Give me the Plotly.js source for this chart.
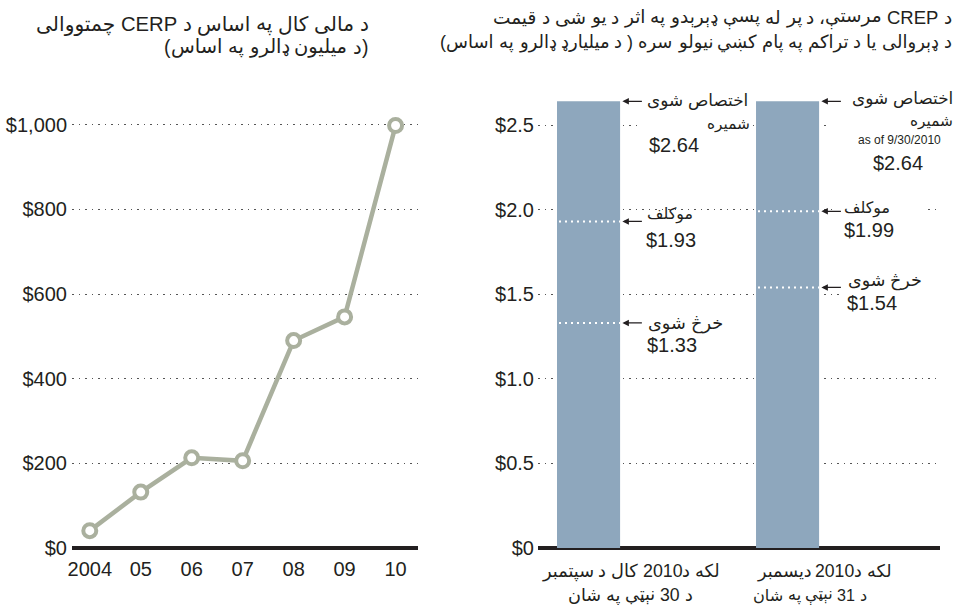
<!DOCTYPE html>
<html><head><meta charset="utf-8">
<script src="https://cdn.plot.ly/plotly-3.0.1.min.js"></script>
<style>body{margin:0;background:#fff}#chart{width:959px;height:605px}</style>
</head><body><div id="chart"></div>
<script>
// ---------- data ----------
const lineYears = [2004, 2005, 2006, 2007, 2008, 2009, 2010];
const lineTickLabels = ['2004', '05', '06', '07', '08', '09', '10'];
const lineValues = [41, 132, 213, 206, 490, 546, 998];
const leftTickVals = [0, 200, 400, 600, 800, 1000];
const leftTickText = ['$0', '$200', '$400', '$600', '$800', '$1,000'];

const barCategoriesLine1 = ['لکه د2010 کال د سپتمبر', 'لکه د2010 دیسمبر'];
const barCategoriesLine2 = ['د 30 نېټې په شان', 'د 31 نېټې په شان'];
const barAppropriated = [2.64, 2.64];
const barObligated = [1.93, 1.99];
const barSpent = [1.33, 1.54];
const rightTickVals = [0, 0.5, 1, 1.5, 2, 2.5];
const rightTickText = ['$0', '$0.5', '$1.0', '$1.5', '$2.0', '$2.5'];

const leftTitle = ['د مالی کال په اساس د CERP چمتووالی', '(د میلیون ډالرو په اساس)'];
const rightTitle = ['د CREP مرستې، د پر له پسې ډېرېدو په اثر د يو شی د قيمت',
                    'د ډېروالی یا د تراکم په پام کښي نیولو سره ( د میلیارډ ډالرو په اساس)'];
const lblAppropriated = ['اختصاص شوی', 'شمیره'];
const lblObligated = 'موکلف';
const lblSpent = 'خرڅ شوی';
const lblAsOf = 'as of 9/30/2010';

// ---------- helpers ----------
const W = 959, H = 605;
const FONT = 'Liberation Sans, Arial, DejaVu Sans, sans-serif';
const CFONT = '"Liberation Sans", Arial, "DejaVu Sans", sans-serif';
const INK = '#231f20';
const ctx = document.createElement('canvas').getContext('2d');
function meas(t, size) { ctx.font = size + 'px ' + CFONT; return ctx.measureText(t).width; }
function money(v) { return '$' + v.toFixed(2); }
const AR = /[\u0620-\u06FF]/;
function mirror(s) { return s.replace(/[()]/g, c => (c === '(' ? ')' : '(')); }

const ann = [];
function T(text, x, y, o) {
  o = o || {};
  ann.push({xref: 'paper', yref: 'paper', x: x / W, y: 1 - y / H,
    xanchor: o.xa || 'left', yanchor: 'middle', showarrow: false, text: text,
    borderpad: 0, borderwidth: 0,
    font: {family: FONT, size: o.size || 18, color: INK}});
}
// Pashto lines are set right to left, word by word (digits, Latin words and
// punctuation kept as their own pieces), so the order on screen is exact.
function line(text, x, y, o) {
  let size = o.size;
  const pcs = [];
  text.split(' ').forEach((w, wi) => {
    (w.match(/[\u0620-\u06FF]+|[^\u0620-\u06FF]+/g) || [w]).forEach((s, si) =>
      pcs.push({t: AR.test(s) ? s : mirror(s), sp: wi > 0 && si === 0}));
  });
  const total = sz => pcs.reduce((a, p) => a + meas(p.t, sz) + (p.sp ? meas(' ', sz) : 0), 0);
  if (o.fit) size = Math.max(size * 0.82, Math.min(size * 1.15, size * o.fit / total(size)));
  const tw = total(size);
  let cx = o.xa === 'right' ? x : o.xa === 'center' ? x + tw / 2 : x + tw;
  pcs.forEach(p => {
    if (p.sp) cx -= meas(' ', size);
    cx -= meas(p.t, size);
    T(p.t, cx, y, {size: size});
  });
}
function mask(x0, x1, yc, h) {
  ann.push({xref: 'paper', yref: 'paper', x: (x0 + x1) / 2 / W, y: 1 - yc / H,
    xanchor: 'center', yanchor: 'middle', showarrow: false, text: '&nbsp;',
    width: x1 - x0, height: h, bgcolor: '#ffffff', borderpad: 0, borderwidth: 0,
    font: {size: 4}});
}

// ---------- traces ----------
const traces = [];
traces.push({
  type: 'scatter', mode: 'lines+markers', x: lineYears, y: lineValues,
  xaxis: 'x', yaxis: 'y', cliponaxis: false,
  line: {color: '#aab09e', width: 4.5},
  marker: {size: 13, color: '#ffffff', line: {color: '#aab09e', width: 4}},
  hoverinfo: 'skip'
});
const barIdx = barAppropriated.map((_, i) => i);
const BW = 0.317;
traces.push({
  type: 'bar', x: barIdx, y: barAppropriated, width: BW,
  xaxis: 'x2', yaxis: 'y2', marker: {color: '#8ea7bd'}, hoverinfo: 'skip'
});
const dx = [], dy = [];
barIdx.forEach(i => {
  [barObligated[i], barSpent[i]].forEach(v => {
    dx.push(i - BW / 2 + 0.01, i + BW / 2, null);
    dy.push(v, v, null);
  });
});
traces.push({
  type: 'scatter', mode: 'lines', x: dx, y: dy, xaxis: 'x2', yaxis: 'y2',
  line: {color: '#ffffff', width: 2, dash: '2px,4px'}, hoverinfo: 'skip'
});

// ---------- annotations ----------
// white patches behind the labels that interrupt the grid lines
mask(642, 752, 125, 12);
mask(826, 958, 125, 12);
mask(833, 926, 209, 10);
mask(841, 936, 293, 10);

// titles
line(leftTitle[0], 369, 24, {xa: 'right', size: 20, fit: 333});
line(leftTitle[1], 368, 47, {xa: 'right', size: 20, fit: 204});
line(rightTitle[0], 952, 17, {xa: 'right', size: 18, fit: 459});
line(rightTitle[1], 952, 42, {xa: 'right', size: 18, fit: 512});

// bar 1 labels
line(lblAppropriated[0], 748, 100, {xa: 'right', size: 17, fit: 101});
line(lblAppropriated[1], 750, 124, {xa: 'right', size: 17, fit: 43});
T(money(barAppropriated[0]), 649, 145, {size: 20});
line(lblObligated, 647, 215, {size: 17, fit: 46});
T(money(barObligated[0]), 646, 240, {size: 20});
line(lblSpent, 648, 323, {size: 17, fit: 75});
T(money(barSpent[0]), 647, 345, {size: 20});
// bar 2 labels
line(lblAppropriated[0], 953, 99, {xa: 'right', size: 17, fit: 101});
line(lblAppropriated[1], 953, 121, {xa: 'right', size: 17, fit: 43});
T(lblAsOf, 899, 140, {xa: 'center', size: 12});
T(money(barAppropriated[1]), 898, 163, {xa: 'center', size: 20});
line(lblObligated, 844, 208, {size: 17, fit: 46});
T(money(barObligated[1]), 844, 230, {size: 20});
line(lblSpent, 848, 280, {size: 17, fit: 74});
T(money(barSpent[1]), 847, 303, {size: 20});

// category labels under the bars
line(barCategoriesLine1[0], 631, 571, {xa: 'center', size: 19, fit: 178});
line(barCategoriesLine2[0], 630, 595, {xa: 'center', size: 19, fit: 125});
line(barCategoriesLine1[1], 824, 571, {xa: 'center', size: 19, fit: 135});
line(barCategoriesLine2[1], 810, 595, {xa: 'center', size: 19, fit: 114});

// arrows pointing at bar edges
barIdx.forEach(i => {
  [barAppropriated[i], barObligated[i], barSpent[i]].forEach(v => {
    ann.push({xref: 'x2', yref: 'y2', x: i + 0.17, y: v, axref: 'pixel', ayref: 'pixel',
      ax: 21, ay: 0, text: '', showarrow: true, arrowhead: 2, arrowsize: 1,
      arrowwidth: 1.3, arrowcolor: INK});
  });
});

// ---------- layout ----------
const pyL = 0.4233, pyR = 169.2, y0 = 548, yTop = 96, yBot = 552;
const layout = {
  width: W, height: H, margin: {l: 0, r: 0, t: 0, b: 0},
  paper_bgcolor: '#fff', plot_bgcolor: 'rgba(0,0,0,0)', showlegend: false,
  font: {family: FONT, color: INK},
  xaxis: {domain: [72 / W, 418 / W], range: [2003.651, 2010.44],
    tickvals: lineYears, ticktext: lineTickLabels, showgrid: false, zeroline: false,
    showline: false, ticks: '', tickfont: {size: 20, color: INK}, ticklabelstandoff: 3},
  yaxis: {domain: [1 - yBot / H, 1 - yTop / H],
    range: [-(yBot - y0) / pyL, (y0 - yTop) / pyL],
    tickvals: leftTickVals, ticktext: leftTickText, showgrid: true,
    gridcolor: '#555', gridwidth: 1, griddash: '1.5px,5px',
    zeroline: true, zerolinecolor: INK, zerolinewidth: 4,
    ticks: '', tickfont: {size: 20, color: INK}, ticklabelstandoff: 4},
  xaxis2: {domain: [538 / W, 940 / W], range: [-0.254, 1.766], anchor: 'y2',
    showgrid: false, zeroline: false, showline: false, showticklabels: false, ticks: ''},
  yaxis2: {domain: [1 - yBot / H, 1 - yTop / H], anchor: 'x2',
    range: [-(yBot - y0) / pyR, (y0 - yTop) / pyR],
    tickvals: rightTickVals, ticktext: rightTickText, showgrid: true,
    gridcolor: '#555', gridwidth: 1, griddash: '1.5px,5px',
    zeroline: true, zerolinecolor: INK, zerolinewidth: 4,
    ticks: '', tickfont: {size: 20, color: INK}, ticklabelstandoff: 3},
  annotations: ann
};
Plotly.newPlot('chart', traces, layout, {displayModeBar: false, staticPlot: true});
</script></body></html>
